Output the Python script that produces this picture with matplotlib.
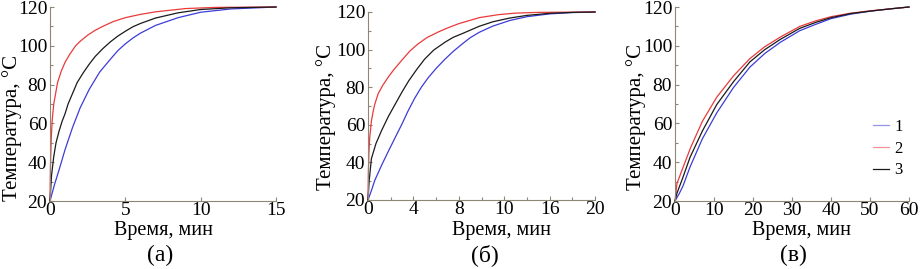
"""Heating curves for three samples, three panels."""

import numpy as np
import matplotlib

matplotlib.use("Agg")
import matplotlib.pyplot as plt
from matplotlib.ticker import MultipleLocator, FixedLocator

plt.rcParams.update({
    "font.family": ["Liberation Serif", "DejaVu Serif"],
    "font.size": 14,
    "axes.linewidth": 0.8,
})

AXIS = "#8f8676"
BLUE = "#3c3cd8"
RED = "#ea3a3a"
BLACK = "#1a1a1a"

# panel (а), 0-15 min
a_t1 = [0, 0.3, 0.6, 1.0, 1.5, 2.0, 2.6, 3.3, 4.0, 4.5, 5.0, 5.5, 6.0, 7.0, 8.5, 10, 12, 15]
a_T1 = [20, 28.5, 36, 46.5, 58, 68, 77.5, 86.5, 93, 97.5, 101, 104, 106.5, 110.5, 114.5, 117.3, 119, 120]
a_t2 = [0, 0.03, 0.08, 0.15, 0.25, 0.5, 0.75, 1.0, 1.3, 1.7, 2.0, 2.5, 3.0, 3.5, 4.2, 5, 6, 7, 9, 11, 15]
a_T2 = [20, 38, 52, 62, 70, 81, 87, 91.5, 95.5, 100, 102.3, 105.5, 108, 110, 112.5, 114.5, 116.2,
        117.5, 119.2, 119.8, 120]
a_t3 = [0, 0.1, 0.25, 0.4, 0.6, 0.8, 1.0, 1.2, 1.5, 1.8, 2.2, 2.6, 3.0, 3.5, 4.0, 4.5, 5.0, 5.5,
        6.0, 7.0, 8.5, 10, 12, 15]
a_T3 = [20, 33, 43, 50, 56, 61, 65, 70, 75.5, 81, 86, 90.5, 94.5, 98.5, 102, 105, 107.5, 109.8,
        111.5, 114.3, 117, 118.7, 119.6, 120]

# panel (б), 0-20 min
b_t1 = [0, 0.3, 0.6, 1.2, 1.8, 2.5, 3.0, 3.5, 4.1, 4.7, 5.3, 6.0, 6.8, 7.5, 8.3, 9.0, 9.8,
        11, 12.5, 14, 16, 18, 20]
b_T1 = [20, 25, 30.5, 38.5, 46, 54.5, 60.5, 67, 74, 80, 85, 90, 95, 99, 103, 106.3, 109.2,
        112.5, 115.5, 117.5, 119, 119.7, 120]
b_t2 = [0, 0.03, 0.08, 0.15, 0.3, 0.45, 0.6, 0.9, 1.3, 1.8, 2.3, 3.0, 3.7, 4.4, 5.2, 6.2, 7, 8,
        9.8, 11.5, 13, 15, 20]
b_T2 = [20, 34, 45, 53, 62, 67, 71, 76.6, 81, 85.5, 89.5, 94.5, 99.3, 103, 106.4, 109.4, 111.5,
        113.8, 117, 118.6, 119.4, 119.8, 120]
b_t3 = [0, 0.1, 0.3, 0.7, 1.2, 1.8, 2.4, 3.0, 3.6, 4.3, 5.0, 5.8, 6.8, 7.5, 8.3, 9.8, 11, 12.5,
        14, 16, 18, 20]
b_T3 = [20, 30, 42, 50, 57, 64.5, 71, 77.5, 83.5, 89.5, 95, 99.8, 104, 106.5, 108.5, 112.4, 114.8,
        116.8, 118.2, 119.3, 119.8, 120]

# panel (в), 0-60 min
c_t1 = [0, 1, 2, 3.85, 7, 10.7, 15, 19.2, 23, 27, 32, 36, 40, 45, 50, 55, 60]
c_T1 = [20, 23.5, 27.5, 37.5, 52, 65.4, 78.5, 89, 96, 101.8, 107.8, 111, 114, 116.3, 117.8, 119, 120]
c_t2 = [0, 0.5, 2, 4, 7, 10.7, 15, 19.2, 23, 27, 32, 36, 40, 45, 50, 55, 60]
c_T2 = [20, 29, 37, 47.5, 61, 73.5, 84.5, 93.4, 99.5, 104.5, 110, 112.8, 115, 116.8, 118, 119, 120]
c_t3 = [0, 0.5, 2, 3.85, 7, 10.7, 15, 19.2, 23, 27, 32, 36, 40, 45, 50, 55, 60]
c_T3 = [20, 24, 32, 42.5, 56, 69.7, 81.5, 91.7, 98, 103.3, 109, 112, 114.5, 116.6, 117.9, 119, 120]

x_ticks_b = [0, 4, 8, 12, 16, 20]
x_ticklabels_b = ["0", "4", "8", "10", "16", "20"]
series_labels = ["1", "2", "3"]

W, H = 921, 269
fig = plt.figure(figsize=(W / 100, H / 100), dpi=100)


def px_axes(left, top, right, bottom):
    return fig.add_axes([left / W, 1 - bottom / H, (right - left) / W, (bottom - top) / H])


def style(ax, xmax):
    for s in ("top", "right"):
        ax.spines[s].set_visible(False)
    for s in ("left", "bottom"):
        ax.spines[s].set_color(AXIS)
    ax.set_xlim(0, xmax)
    ax.set_ylim(20, 120)
    ax.yaxis.set_major_locator(MultipleLocator(20))
    ax.yaxis.set_minor_locator(MultipleLocator(10))
    ax.tick_params(which="both", direction="in", color=AXIS, width=0.8, labelsize=14)
    ax.tick_params(which="major", length=3)
    ax.tick_params(which="minor", length=2.5)
    ax.tick_params(axis="y", pad=2)
    ax.tick_params(axis="x", pad=1)


def labels(ax, xl, yl):
    ax.set_xlabel("Время, мин", fontsize=14.5, va="center")
    ax.xaxis.set_label_coords(*xl)
    ax.set_ylabel("Температура, °C", fontsize=15, va="center")
    ax.yaxis.set_label_coords(*yl)


panels = [
    (px_axes(50, 7, 276, 201), 15, (a_t1, a_T1), (a_t2, a_T2), (a_t3, a_T3)),
    (px_axes(368, 12, 595, 200), 20, (b_t1, b_T1), (b_t2, b_T2), (b_t3, b_T3)),
    (px_axes(675, 7, 909, 201), 60, (c_t1, c_T1), (c_t2, c_T2), (c_t3, c_T3)),
]

for ax, xmax, s1, s2, s3 in panels:
    style(ax, xmax)
    for (t, T), c, lab in zip((s1, s2, s3), (BLUE, RED, BLACK), series_labels):
        ax.plot(t, T, color=c, lw=0.9, label=lab, clip_on=False)

ax_a, ax_b, ax_c = (p[0] for p in panels)

ax_a.xaxis.set_major_locator(FixedLocator([0, 5, 10, 15]))
ax_a.xaxis.set_minor_locator(FixedLocator([]))
ax_b.xaxis.set_major_locator(FixedLocator(x_ticks_b))
ax_b.set_xticklabels(x_ticklabels_b)
ax_b.xaxis.set_minor_locator(MultipleLocator(2))
ax_c.xaxis.set_major_locator(MultipleLocator(10))
ax_c.xaxis.set_minor_locator(FixedLocator([]))

labels(ax_a, (0.504, -0.15), (-0.17, 0.376))
labels(ax_b, (0.59, -0.16), (-0.185, 0.44))
labels(ax_c, (0.54, -0.15), (-0.168, 0.433))

leg = ax_c.legend(loc="center left", bbox_to_anchor=(0.78, 0.27), frameon=False,
                  fontsize=12, handlelength=1.0, handletextpad=0.3, labelspacing=0.35)
for h in leg.legend_handles:
    h.set_alpha(0.55)
leg.legend_handles[2].set_alpha(1.0)

for x, s in ((160, "(а)"), (485, "(б)"), (793, "(в)")):
    fig.text(x / W, 1 - 255 / H, s, ha="center", va="center", fontsize=17)

fig.savefig("out.png", dpi=100)
